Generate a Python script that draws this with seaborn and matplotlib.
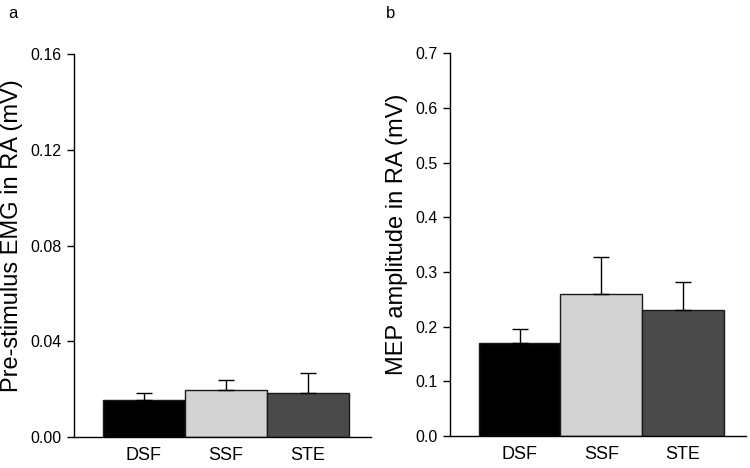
import numpy as np
import pandas as pd
import matplotlib
matplotlib.use("Agg")
import matplotlib.pyplot as plt
import seaborn as sns

conditions = ["DSF", "SSF", "STE"]
bar_colors = ["#000000", "#d3d3d3", "#4a4a4a"]

emg_mean = [0.0153, 0.0196, 0.0183]
emg_sem = [0.0030, 0.0042, 0.0083]

mep_mean = [0.170, 0.260, 0.230]
mep_sem = [0.025, 0.067, 0.051]

emg_ticks = [0.00, 0.04, 0.08, 0.12, 0.16]
mep_ticks = [0.0, 0.1, 0.2, 0.3, 0.4, 0.5, 0.6, 0.7]

sns.set_style("ticks")
plt.rcParams["font.family"] = ["Liberation Sans", "DejaVu Sans"]
plt.rcParams["text.color"] = "black"
plt.rcParams["axes.labelcolor"] = "black"
plt.rcParams["xtick.color"] = "black"
plt.rcParams["ytick.color"] = "black"

fig = plt.figure(figsize=(7.5, 4.68), dpi=100)
ax_a = fig.add_axes([0.0987, 0.0662, 0.396, 0.8184])
ax_b = fig.add_axes([0.600, 0.0684, 0.3947, 0.8176])


def draw_panel(ax, means, sems, ticks, ylabel, fmt, label_x):
    df = pd.DataFrame({"cond": conditions, "value": means})
    sns.barplot(data=df, x="cond", y="value", hue="cond", palette=bar_colors,
                width=1.0, edgecolor="#1a1a1a", linewidth=1.0, legend=False,
                errorbar=None, ax=ax)
    x = np.arange(len(conditions))
    ax.errorbar(x, means, yerr=[np.zeros(len(sems)), sems], fmt="none",
                ecolor="black", elinewidth=1.0, capsize=5.5, capthick=1.0, zorder=5)
    ax.set_xlim(-0.85, 2.77)
    ax.set_ylim(ticks[0], ticks[-1])
    ax.set_yticks(ticks)
    ax.set_yticklabels([fmt.format(t) for t in ticks], fontsize=11.5)
    ax.tick_params(axis="y", direction="out", length=5, width=1, pad=4)
    ax.tick_params(axis="x", length=0, labelsize=13, pad=7)
    ax.set_xlabel("")
    ax.set_ylabel(ylabel, fontsize=17, va="center")
    ax.yaxis.set_label_coords(label_x, 0.527)
    for side in ["top", "right"]:
        ax.spines[side].set_visible(False)
    for side in ["left", "bottom"]:
        ax.spines[side].set_linewidth(1.0)
        ax.spines[side].set_color("black")


draw_panel(ax_a, emg_mean, emg_sem, emg_ticks, "Pre-stimulus EMG in RA (mV)", "{:.2f}", -0.21)
draw_panel(ax_b, mep_mean, mep_sem, mep_ticks, "MEP amplitude in RA (mV)", "{:.1f}", -0.18)

fig.text(0.011, 0.988, "a", fontsize=12, va="top", ha="left")
fig.text(0.515, 0.988, "b", fontsize=12, va="top", ha="left")

fig.savefig("out.png", dpi=100)
